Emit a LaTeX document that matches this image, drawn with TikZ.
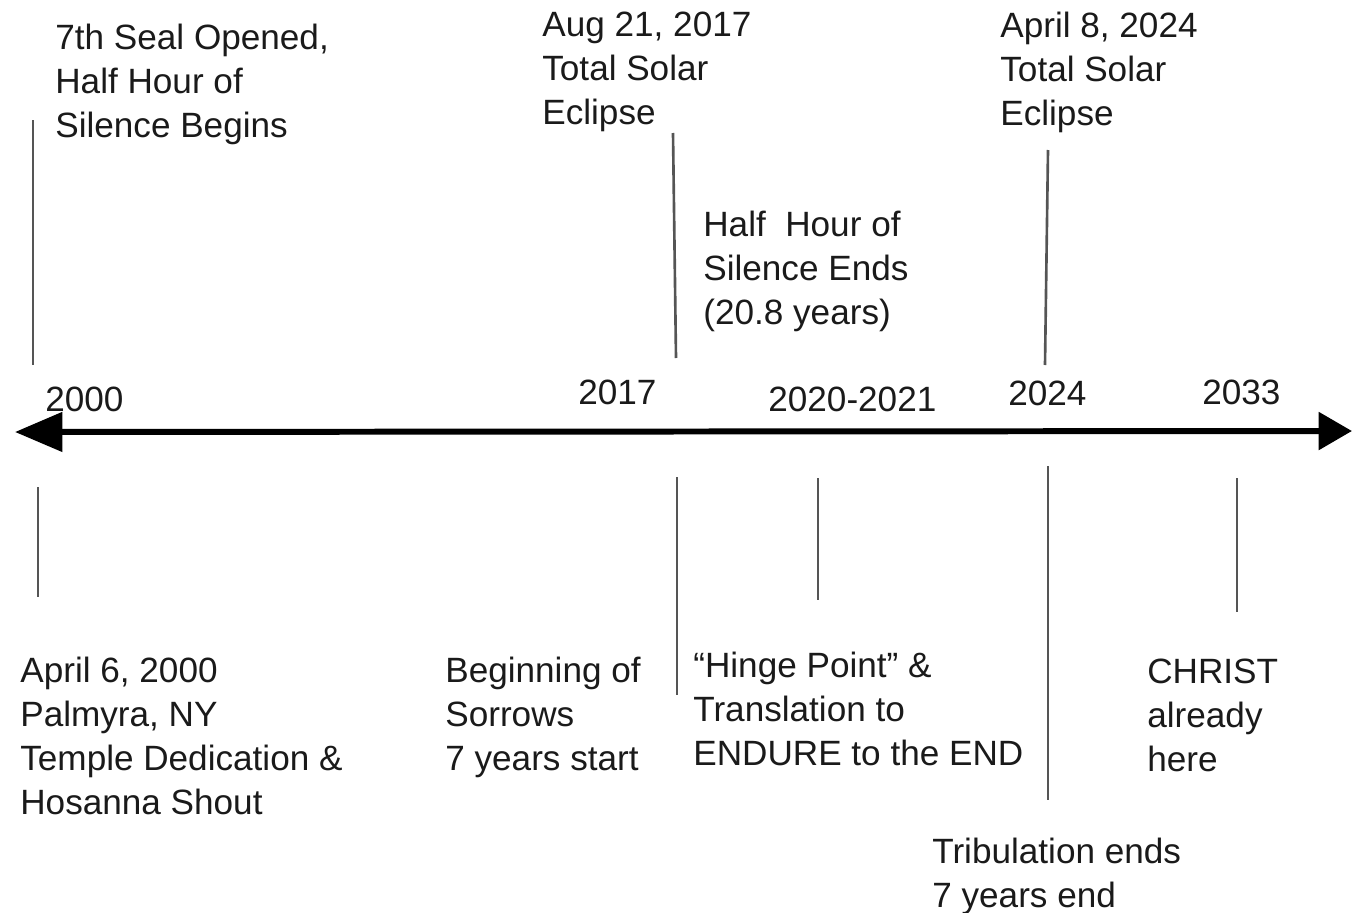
\documentclass[tikz,border=0pt]{standalone}
\usepackage{fontspec}
\setmainfont{Liberation Sans}
\usepackage{tikz}
\usetikzlibrary{arrows.meta, positioning}
\definecolor{tlInk}{HTML}{1A1A1A}
\definecolor{tlTick}{HTML}{555555}
\tikzset{
  evlabel/.style={anchor=north west, inner sep=0pt, align=left,
    font=\fontsize{20}{25}\selectfont, text=tlInk},
  yearlabel/.style={anchor=west, inner sep=0pt, font=\fontsize{20}{25}\selectfont, text=tlInk},
  tick/.style={line width=1.5pt, tlTick},
  timeline/.style={line width=3.4pt, black,
    {Triangle[length=27pt, width=22pt]}-{Triangle[length=19pt, width=21pt]}}
}
\begin{document}
\begin{tikzpicture}[x=0.02cm, y=-0.02cm]
  \useasboundingbox (0,0) rectangle (1353,913);
  % main axis
  \coordinate (start) at (15,432);
  \coordinate (finish) at (1352,431);
  \draw[timeline] (start) -- (finish);

  % years
  \node[yearlabel] (y2000) at (45,399) {2000};
  \node[yearlabel] (y2017) at (578,392) {2017};
  \node[yearlabel] (y2020) at (768,399) {2020-2021};
  \node[yearlabel] (y2024) at (1008,393) {2024};
  \node[yearlabel] (y2033) at (1202,392) {2033};

  % events above
  \node[evlabel] (seal) at (55,24) {7th Seal Opened,\\Half Hour of\\Silence Begins};
  \node[evlabel] (eclA) at (542,12) {Aug 21, 2017\\Total Solar\\Eclipse};
  \node[evlabel] (eclB) at (1000,12) {April 8, 2024\\Total Solar\\Eclipse};
  \node[evlabel] (silend) at (703,211) {Half\ \ Hour of\\Silence Ends\\(20.8 years)};

  % events below
  \node[evlabel] (palmyra) at (20,657) {April 6, 2000\\Palmyra, NY\\Temple Dedication \&\\Hosanna Shout};
  \node[evlabel] (sorrows) at (445,657) {Beginning of\\Sorrows\\7 years start};
  \node[evlabel] (hinge) at (693,652) {``Hinge Point'' \&\\Translation to\\ENDURE to the END};
  \node[evlabel] (christ) at (1147,659) {CHRIST\\already\\here};
  \node[evlabel] (trib) at (932,838) {Tribulation ends\\7 years end};

  % ticks
  \coordinate (tA1) at (33,120);   \coordinate (tA2) at (33,365);
  \coordinate (tB1) at (673,133);  \coordinate (tB2) at (676,358);
  \coordinate (tC1) at (1048,150); \coordinate (tC2) at (1045,365);
  \coordinate (bA1) at (38,487);   \coordinate (bA2) at (38,597);
  \coordinate (bB1) at (677,477);  \coordinate (bB2) at (677,695);
  \coordinate (bC1) at (818,478);  \coordinate (bC2) at (818,600);
  \coordinate (bD1) at (1048,466); \coordinate (bD2) at (1048,800);
  \coordinate (bE1) at (1237,478); \coordinate (bE2) at (1237,612);
  \foreach \a/\b in {tA1/tA2, tB1/tB2, tC1/tC2, bA1/bA2, bB1/bB2, bC1/bC2, bD1/bD2, bE1/bE2}
    \draw[tick] (\a) -- (\b);
\end{tikzpicture}
\end{document}
